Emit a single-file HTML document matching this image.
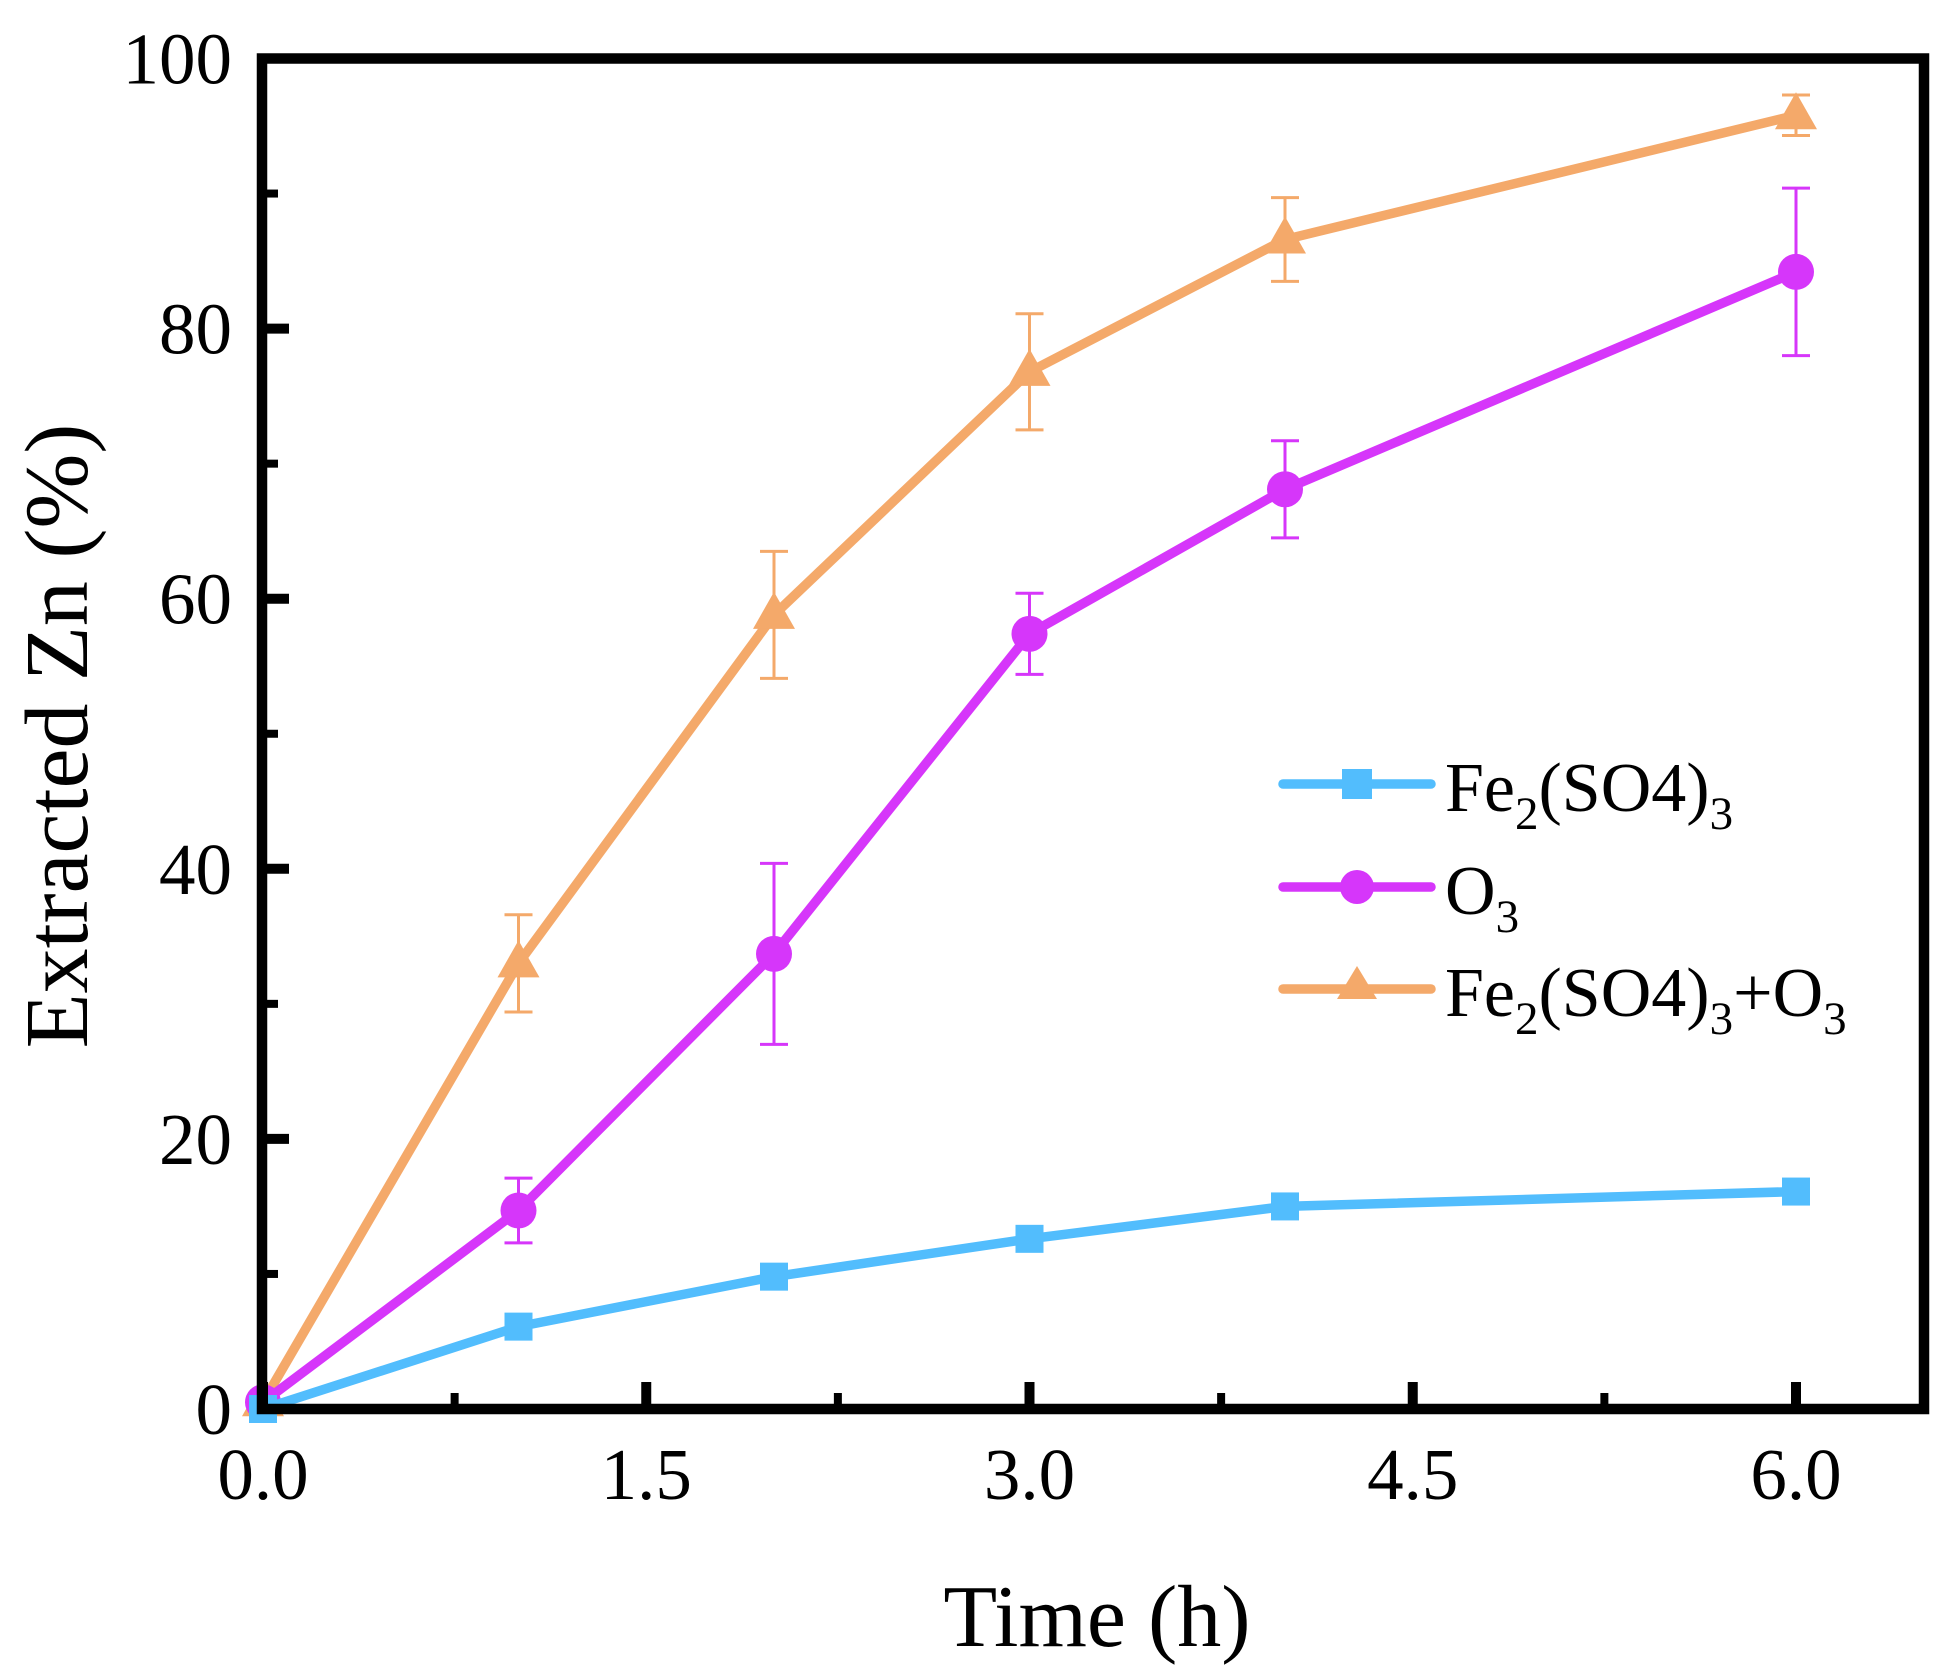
<!DOCTYPE html>
<html><head><meta charset="utf-8"><style>
html,body{margin:0;padding:0;background:#fff;}
svg{display:block;font-family:"Liberation Serif",serif;}
</style></head><body>
<svg id="chart" width="1959" height="1678" viewBox="0 0 1959 1678">
<g id="plot"></g>
<rect x="262" y="58.5" width="1662" height="1350.5" fill="none" stroke="#000" stroke-width="10.5"/>
<g id="axes"></g>
<text x="1097" y="1646" font-size="88" text-anchor="middle">Time (h)</text>
<text transform="translate(87,736) rotate(-90)" font-size="90" text-anchor="middle">Extracted Zn (%)</text>
<g id="legend">
 <g>
  <line x1="1283" y1="784" x2="1431" y2="784" stroke="#52BDFD" stroke-width="9.5" stroke-linecap="round"/>
  <rect x="1342" y="769" width="30" height="30" fill="#52BDFD"/>
  <text x="1445" y="811" font-size="70">Fe<tspan font-size="47" dy="18">2</tspan><tspan dy="-18">(SO4)</tspan><tspan font-size="47" dy="18">3</tspan></text>
 </g>
 <g>
  <line x1="1283" y1="887" x2="1431" y2="887" stroke="#D636FA" stroke-width="9.5" stroke-linecap="round"/>
  <circle cx="1357" cy="887" r="17" fill="#D636FA"/>
  <text x="1445" y="914" font-size="70">O<tspan font-size="47" dy="18">3</tspan></text>
 </g>
 <g>
  <line x1="1283" y1="989" x2="1431" y2="989" stroke="#F4A96A" stroke-width="9.5" stroke-linecap="round"/>
  <polygon points="1357,966 1377,999 1337,999" fill="#F4A96A"/>
  <text x="1445" y="1016" font-size="70">Fe<tspan font-size="47" dy="18">2</tspan><tspan dy="-18">(SO4)</tspan><tspan font-size="47" dy="18">3</tspan><tspan dy="-18">+O</tspan><tspan font-size="47" dy="18">3</tspan></text>
 </g>
</g>
</svg>
<script>
const times = [0, 1, 2, 3, 4, 6];
const feValues = [0, 6.1, 9.8, 12.6, 15.0, 16.1];
const o3Values = [0.5, 14.7, 33.7, 57.4, 68.1, 84.2];
const o3Errors = [0, 2.4, 6.7, 3.0, 3.6, 6.2];
const mixValues = [0.5, 33.0, 58.8, 76.8, 86.6, 95.8];
const mixErrors = [0, 3.6, 4.7, 4.3, 3.1, 1.5];
const xTickValues = [0, 1.5, 3, 4.5, 6];
const xTickLabels = ["0.0", "1.5", "3.0", "4.5", "6.0"];
const xMinorTicks = [0.75, 2.25, 3.75, 5.25];
const yTickValues = [0, 20, 40, 60, 80, 100];
const yTickLabels = ["0", "20", "40", "60", "80", "100"];
const yMinorTicks = [10, 30, 50, 70, 90];

const NS = "http://www.w3.org/2000/svg";
const X0 = 263, XS = (1796 - 263) / 6;
const Y0 = 1409, YS = (1409 - 58.5) / 100;
function sx(v){ return X0 + v * XS; }
function sy(v){ return Y0 - v * YS; }
function mk(tag, attrs, parent){
  const e = document.createElementNS(NS, tag);
  for (const k in attrs) e.setAttribute(k, attrs[k]);
  parent.appendChild(e);
  return e;
}
const plot = document.getElementById("plot");
const axes = document.getElementById("axes");

xTickValues.forEach((v, i) => {
  const t = mk("line", {x1: sx(v), x2: sx(v), y1: 1404, y2: 1382, stroke: "#000", "stroke-width": 10}, axes);
  
  
  const l = mk("text", {x: sx(v), y: 1499, "font-size": 73, "text-anchor": "middle"}, axes);
  l.textContent = xTickLabels[i];
  
  
});
xMinorTicks.forEach(v => {
  const t = mk("line", {x1: sx(v), x2: sx(v), y1: 1404, y2: 1393, stroke: "#000", "stroke-width": 8}, axes);
  
  
});
yTickValues.forEach((v, i) => {
  const t = mk("line", {x1: 267, x2: 289, y1: sy(v), y2: sy(v), stroke: "#000", "stroke-width": 10}, axes);
  
  
  const l = mk("text", {x: 232, y: sy(v) + 25, "font-size": 73, "text-anchor": "end"}, axes);
  l.textContent = yTickLabels[i];
  
  
});
yMinorTicks.forEach(v => {
  const t = mk("line", {x1: 267, x2: 278, y1: sy(v), y2: sy(v), stroke: "#000", "stroke-width": 8}, axes);
  
  
});

function series(vals, errs, color, marker, name){
  const g = mk("g", {}, plot);
  
  
  if (errs) {
    vals.forEach((v, i) => {
      if (!errs[i]) return;
      const x = sx(times[i]), yt = sy(v + errs[i]), yb = sy(v - errs[i]);
      const e = mk("path", {d: `M${x},${yt}V${yb}M${x-14},${yt}H${x+14}M${x-14},${yb}H${x+14}`, stroke: color, "stroke-width": 3, fill: "none"}, g);
      
      
    });
  }
  const pts = vals.map((v, i) => sx(times[i]) + "," + sy(v)).join(" ");
  const pl = mk("polyline", {points: pts, fill: "none", stroke: color, "stroke-width": 9.5, "stroke-linejoin": "round"}, g);
  
  
  vals.forEach((v, i) => {
    const x = sx(times[i]), y = sy(v);
    let m;
    if (marker === "square") m = mk("rect", {x: x - 14, y: y - 14, width: 28, height: 28, fill: color}, g);
    else if (marker === "circle") m = mk("circle", {cx: x, cy: y, r: 18, fill: color}, g);
    else m = mk("polygon", {points: `${x},${y-23} ${x+21},${y+14} ${x-21},${y+14}`, fill: color}, g);
    
    
  });
}
series(mixValues, mixErrors, "#F4A96A", "triangle", "fe2so43-o3");
series(o3Values, o3Errors, "#D636FA", "circle", "o3");
series(feValues, null, "#52BDFD", "square", "fe2so43");
</script>
</body></html>
